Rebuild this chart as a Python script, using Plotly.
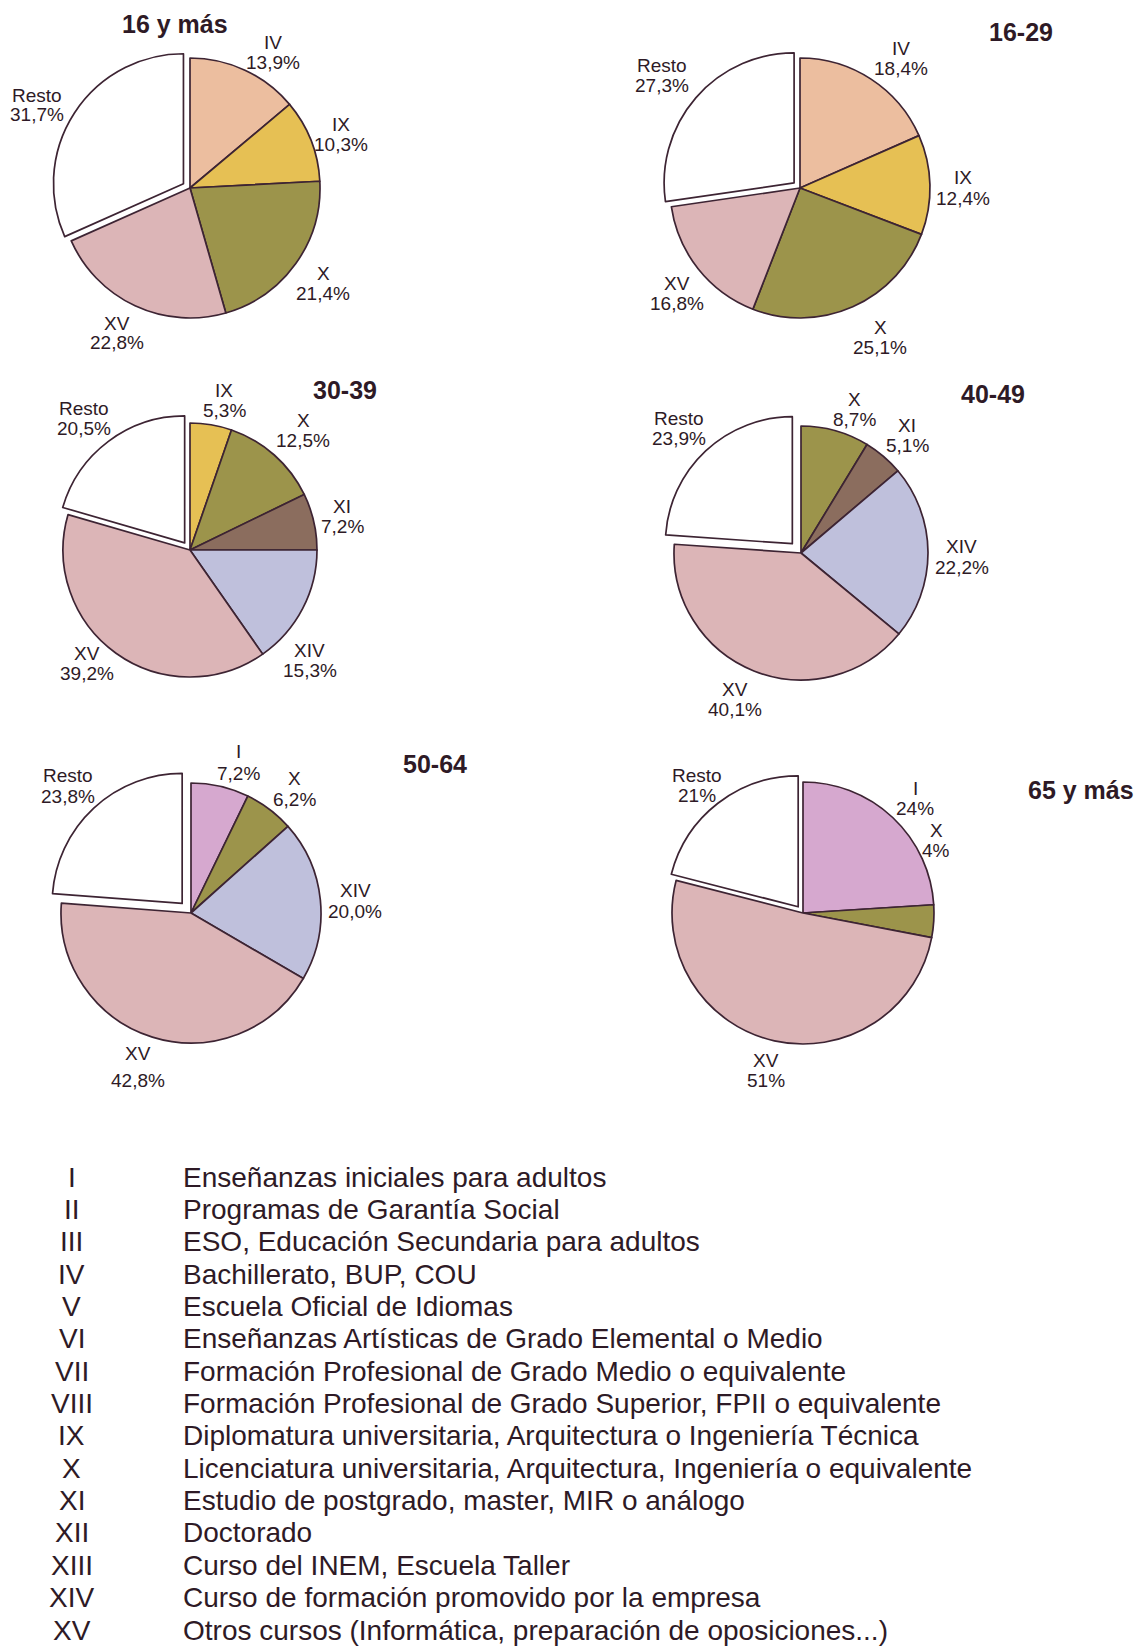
import plotly.graph_objects as go

W, H = 1146, 1648
OFF = 8  # default page body margin of the html page

# ---------------- data ----------------
titles = ["16 y más", "16-29", "30-39", "40-49", "50-64", "65 y más"]

cats_16mas = ["IV", "IX", "X", "XV", "Resto"]
vals_16mas = [13.9, 10.3, 21.4, 22.8, 31.7]

cats_16_29 = ["IV", "IX", "X", "XV", "Resto"]
vals_16_29 = [18.4, 12.4, 25.1, 16.8, 27.3]

cats_30_39 = ["IX", "X", "XI", "XIV", "XV", "Resto"]
vals_30_39 = [5.3, 12.5, 7.2, 15.3, 39.2, 20.5]

cats_40_49 = ["X", "XI", "XIV", "XV", "Resto"]
vals_40_49 = [8.7, 5.1, 22.2, 40.1, 23.9]

cats_50_64 = ["I", "X", "XIV", "XV", "Resto"]
vals_50_64 = [7.2, 6.2, 20.0, 42.8, 23.8]

cats_65mas = ["I", "X", "XV", "Resto"]
vals_65mas = [24, 4, 51, 21]

legend_codes = ["I", "II", "III", "IV", "V", "VI", "VII", "VIII", "IX", "X",
                "XI", "XII", "XIII", "XIV", "XV"]
legend_texts = [
    "Enseñanzas iniciales para adultos",
    "Programas de Garantía Social",
    "ESO, Educación Secundaria para adultos",
    "Bachillerato, BUP, COU",
    "Escuela Oficial de Idiomas",
    "Enseñanzas Artísticas de Grado Elemental o Medio",
    "Formación Profesional de Grado Medio o equivalente",
    "Formación Profesional de Grado Superior, FPII o equivalente",
    "Diplomatura universitaria, Arquitectura o Ingeniería Técnica",
    "Licenciatura universitaria, Arquitectura, Ingeniería o equivalente",
    "Estudio de postgrado, master, MIR o análogo",
    "Doctorado",
    "Curso del INEM, Escuela Taller",
    "Curso de formación promovido por la empresa",
    "Otros cursos (Informática, preparación de oposiciones...)",
]

pies_cats = [cats_16mas, cats_16_29, cats_30_39, cats_40_49, cats_50_64, cats_65mas]
pies_vals = [vals_16mas, vals_16_29, vals_30_39, vals_40_49, vals_50_64, vals_65mas]
decimals = [1, 1, 1, 1, 1, 0]

# ---------------- styles / layout ----------------
colors = {
    "I": "#d6a8cf",
    "IV": "#ecbe9f",
    "IX": "#e6c054",
    "X": "#9c944b",
    "XI": "#8b6d5e",
    "XIV": "#bfc0dc",
    "XV": "#dcb5b7",
    "Resto": "#ffffff",
}
INK = "#2e1a26"
LINE = "#3d2433"
FONT = "Liberation Sans, Arial, Helvetica, sans-serif"

# pie geometry in page pixels: center x, center y, radius, pull of "Resto"
geom = [
    (190, 188, 130, 0.06),
    (800, 188, 130, 0.06),
    (190, 550, 127, 0.07),
    (801, 553, 127, 0.10),
    (191, 913, 130, 0.10),
    (803, 913, 131, 0.06),
]
title_pos = [(175, 24), (1021, 32), (345, 390), (993, 394), (435, 764), (1081, 790)]

# label positions (x center, y of first line, gap between lines)
label_pos = [
    {"IV": (273, 42, 20), "IX": (341, 125, 20), "X": (323, 273, 20),
     "XV": (117, 323, 20), "Resto": (37, 95, 20)},
    {"IV": (901, 48, 20), "IX": (963, 178, 20), "X": (880, 328, 20),
     "XV": (677, 283, 20), "Resto": (662, 65, 20)},
    {"IX": (224, 390, 20), "X": (303, 420, 20), "XI": (342, 507, 20),
     "XIV": (310, 650, 20), "XV": (87, 653, 20), "Resto": (84, 408, 20)},
    {"X": (854, 399, 20), "XI": (907, 425, 20), "XIV": (962, 547, 20),
     "XV": (735, 690, 20), "Resto": (679, 418, 20)},
    {"I": (238, 752, 21), "X": (294, 778, 21), "XIV": (355, 890, 21),
     "XV": (138, 1053, 27), "Resto": (68, 775, 21)},
    {"I": (915, 788, 20), "X": (936, 830, 20), "XV": (766, 1060, 20),
     "Resto": (697, 775, 20)},
]

legend_code_x = 72
legend_text_x = 181
legend_y0 = 1177
legend_dy = 32.36

FW = W - OFF
FH = H - OFF


def px(x):
    return (x - OFF) / FW


def py(y):
    return 1 - (y - OFF) / FH


def fmt(v, d):
    s = f"{v:.{d}f}".replace(".", ",")
    return s + "%"


fig = go.Figure()
annotations = []

for i, (cats, vals) in enumerate(zip(pies_cats, pies_vals)):
    cx, cy, r, p = geom[i]
    s = r * (1 + p)
    fig.add_trace(go.Pie(
        labels=cats,
        values=vals,
        sort=False,
        direction="clockwise",
        rotation=0,
        pull=[p if c == "Resto" else 0 for c in cats],
        marker=dict(colors=[colors[c] for c in cats],
                    line=dict(color=LINE, width=1.7)),
        textinfo="none",
        hoverinfo="label+value",
        showlegend=False,
        domain=dict(x=[px(cx - s), px(cx + s)], y=[py(cy + s), py(cy - s)]),
    ))
    tx, ty = title_pos[i]
    annotations.append(dict(
        x=px(tx), y=py(ty), xref="paper", yref="paper", text=f"<b>{titles[i]}</b>",
        showarrow=False, xanchor="center", yanchor="middle",
        font=dict(family=FONT, size=25, color=INK)))
    for c, v in zip(cats, vals):
        lx, ly, gap = label_pos[i][c]
        annotations.append(dict(
            x=px(lx), y=py(ly), xref="paper", yref="paper", text=c,
            showarrow=False, xanchor="center", yanchor="middle",
            font=dict(family=FONT, size=19, color=INK)))
        annotations.append(dict(
            x=px(lx), y=py(ly + gap), xref="paper", yref="paper",
            text=fmt(v, decimals[i]),
            showarrow=False, xanchor="center", yanchor="middle",
            font=dict(family=FONT, size=19, color=INK)))

for k, (code, txt) in enumerate(zip(legend_codes, legend_texts)):
    y = legend_y0 + k * legend_dy
    annotations.append(dict(
        x=px(legend_code_x), y=py(y), xref="paper", yref="paper", text=code,
        showarrow=False, xanchor="center", yanchor="middle",
        font=dict(family=FONT, size=28, color=INK)))
    annotations.append(dict(
        x=px(legend_text_x), y=py(y), xref="paper", yref="paper", text=txt,
        showarrow=False, xanchor="left", yanchor="middle",
        font=dict(family=FONT, size=28, color=INK)))

fig.update_layout(
    width=FW, height=FH,
    margin=dict(l=0, r=0, t=0, b=0),
    paper_bgcolor="#ffffff",
    plot_bgcolor="#ffffff",
    annotations=annotations,
    showlegend=False,
)

fig.write_html("out.html")
